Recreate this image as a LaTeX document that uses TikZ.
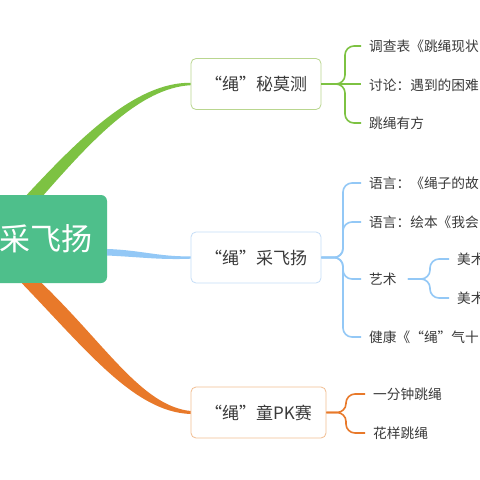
\documentclass[tikz,border=0pt]{standalone}
\usepackage{fontspec}
\setmainfont{Noto Sans CJK SC}
\usetikzlibrary{calc}
\definecolor{gline}{HTML}{7DC242}
\definecolor{gbord}{HTML}{B9D68F}
\definecolor{bline}{HTML}{93C8F6}
\definecolor{bbord}{HTML}{C5DDF7}
\definecolor{oline}{HTML}{E8792A}
\definecolor{obord}{HTML}{F1BE92}
\definecolor{rootc}{HTML}{4EBF8B}
\definecolor{txt}{HTML}{3A3A3A}
\begin{document}
\begin{tikzpicture}[x=1pt,y=-1pt,
  rootbox/.style={fill=rootc,rounded corners=6pt,minimum width=167pt,minimum height=88pt,inner sep=0pt},
  box/.style={draw,line width=0.8pt,rounded corners=5pt,fill=white,text=txt,font=\fontsize{17}{19}\selectfont,inner sep=0pt,minimum height=51pt},
  leaf/.style={anchor=west,text=txt,font=\fontsize{13.7}{15}\selectfont,inner xsep=8pt,inner ysep=0pt},
  conn/.style={line width=1.6pt,rounded corners=9pt}]
\useasboundingbox (0,0) rectangle (480,480);
\clip (0,0) rectangle (480,480);
\fill[white] (0,0) rectangle (480,480);

% root
\node[rootbox] (root) at (23.5,239) {};
\node[anchor=east,text=white,font=\fontsize{31}{34}\selectfont,inner sep=0pt] (rootlabel) at ($(root.east)+(-14,0)$) {“绳”采飞扬};

% main boxes
\node[box,draw=gbord,minimum width=130pt] (n1) at (256,84) {“绳”秘莫测};
\node[box,draw=bbord,minimum width=130pt] (n2) at (256,257.5) {“绳”采飞扬};
\node[box,draw=obord,minimum width=135pt] (n3) at (258.5,412.5) {“绳”童PK赛};

% tapered branches
\fill[gline] ($(root.north west)+(87,0)$) .. controls (78,140) and (135,82) .. ($(n1.west)+(0,-1.2)$)
  -- ($(n1.west)+(0,1.2)$) .. controls (140,88) and (92,140) .. ($(root.north west)+(104,0)$) -- cycle;
\fill[bline] ($(root.east)+(0,10)$) .. controls (140,250) and (160,257) .. ($(n2.west)+(0,-1.2)$)
  -- ($(n2.west)+(0,1.2)$) .. controls (160,260) and (140,257) .. ($(root.east)+(0,16.5)$) -- cycle;
\fill[oline] ($(root.south west)+(82,0)$) .. controls (88,352) and (135,412) .. ($(n3.west)+(0,1.5)$)
  -- ($(n3.west)+(0,-1.5)$) .. controls (142,406) and (106,345) .. ($(root.south west)+(102,0)$) -- cycle;

% leaves of n1
\node[leaf] (c11) at (361,46) {调查表《跳绳现状};
\node[leaf] (c12) at (361,85) {讨论：遇到的困难};
\node[leaf] (c13) at (361,123) {跳绳有方};
\coordinate (b1) at (345,84);
\draw[conn,gline] (n1.east) -- (b1) |- (c11.west);
\draw[conn,gline] (n1.east) -- (b1) |- (c13.west);
\draw[conn,gline] (n1.east) -- (c12.west |- n1.east);

% leaves of n2
\node[leaf] (c21) at (361,183) {语言：《绳子的故};
\node[leaf] (c22) at (361,222) {语言：绘本《我会};
\node[leaf] (c23) at (361,279) {艺术};
\node[leaf] (c24) at (361,337) {健康《“绳”气十};
\coordinate (b2) at (343,257.5);
\draw[conn,bline] (n2.east) -- (b2) |- (c21.west);
\draw[conn,bline] (n2.east) -- (b2) |- (c22.west);
\draw[conn,bline] (n2.east) -- (b2) |- (c23.west);
\draw[conn,bline] (n2.east) -- (b2) |- (c24.west);

% sub leaves of art
\node[leaf] (c231) at (449,259) {美术};
\node[leaf] (c232) at (449,298) {美术};
\coordinate (b3) at (430,279);
\draw[conn,bline] ($(c23.east)+(3,0)$) -- (b3) |- (c231.west);
\draw[conn,bline] ($(c23.east)+(3,0)$) -- (b3) |- (c232.west);

% leaves of n3
\node[leaf] (c31) at (365,394) {一分钟跳绳};
\node[leaf] (c32) at (365,433) {花样跳绳};
\coordinate (b4) at (346,412.5);
\draw[conn,oline] (n3.east) -- (b4) |- (c31.west);
\draw[conn,oline] (n3.east) -- (b4) |- (c32.west);
\end{tikzpicture}
\end{document}
